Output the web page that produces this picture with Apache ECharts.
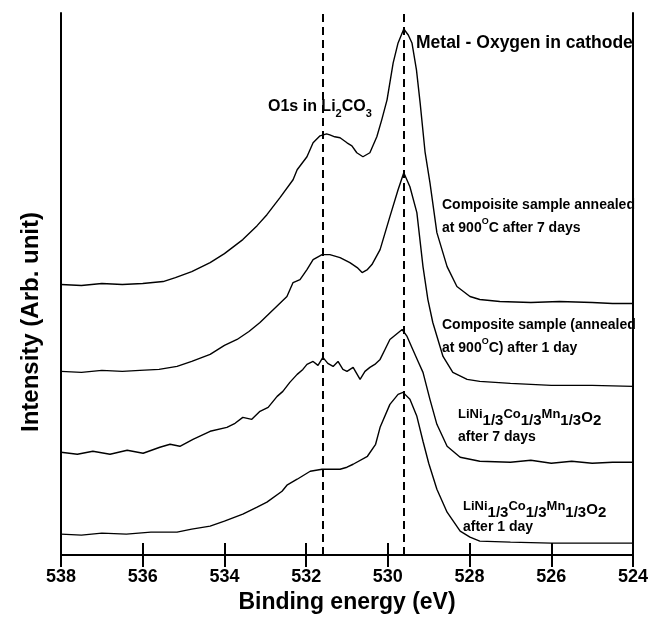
<!doctype html>
<html>
<head>
<meta charset="UTF-8">
<title>O1s XPS</title>
<script src="https://cdn.jsdelivr.net/npm/echarts@6/dist/echarts.min.js"></script>
<style>
  html, body { margin: 0; padding: 0; background: #fff; }
  #main { width: 653px; height: 619px; }
</style>
</head>
<body>
<div id="main"></div>
<script>
// binding energy (eV) and intensity (arb. unit) of each spectrum
var e1 = [538.0, 537.5, 537.0, 536.5, 536.0, 535.5, 535.2, 534.8, 534.35, 534.0, 533.55, 533.2, 532.96, 532.64, 532.32, 532.22, 531.98, 531.83, 531.66, 531.5, 531.42, 531.3, 531.17, 531.0, 530.88, 530.76, 530.61, 530.44, 530.27, 530.15, 530.02, 529.87, 529.75, 529.61, 529.5, 529.41, 529.3, 529.21, 529.09, 528.97, 528.8, 528.55, 528.31, 527.99, 527.75, 527.26, 526.5, 525.8, 525.0, 524.5, 524.0];
var i1 = [271, 270, 272, 271, 272, 274, 278, 284, 293, 302, 316, 330, 341, 358, 376, 386, 399, 413, 420, 422, 421, 419, 418, 413, 410, 403, 399, 403, 419, 436, 456, 493, 513, 527, 521, 513, 486, 453, 404, 373, 323, 289, 269, 259, 256, 254, 253, 254, 253, 252, 252];

var e2 = [538.0, 537.5, 537.0, 536.5, 536.07, 535.6, 535.16, 534.8, 534.35, 534.0, 533.69, 533.4, 533.13, 532.8, 532.47, 532.32, 532.15, 531.98, 531.83, 531.61, 531.42, 531.17, 530.93, 530.75, 530.63, 530.5, 530.39, 530.19, 529.95, 529.75, 529.61, 529.46, 529.29, 529.14, 529.02, 528.9, 528.65, 528.41, 528.06, 527.75, 527.0, 526.0, 525.0, 524.0];
var i2 = [184, 183, 185, 184, 185, 186, 189, 194, 201, 210, 216, 224, 233, 246, 259, 273, 276, 286, 296, 301, 301, 298, 293, 288, 283, 286, 291, 306, 339, 366, 383, 369, 343, 289, 256, 233, 199, 183, 176, 174, 172, 170, 170, 169];

var e3 = [538.0, 537.6, 537.22, 536.8, 536.38, 535.99, 535.58, 535.33, 535.09, 534.77, 534.35, 533.94, 533.74, 533.55, 533.33, 533.13, 532.93, 532.71, 532.57, 532.4, 532.22, 532.08, 531.98, 531.83, 531.71, 531.59, 531.47, 531.34, 531.22, 531.1, 531.0, 530.85, 530.68, 530.56, 530.44, 530.32, 530.19, 530.07, 529.95, 529.8, 529.65, 529.53, 529.39, 529.26, 529.14, 528.97, 528.8, 528.55, 528.23, 527.75, 527.0, 526.5, 526.0, 525.5, 525.0, 524.5, 524.0];
var i3 = [103, 101, 104, 101, 105, 102, 108, 111, 109, 116, 124, 128, 132, 138, 136, 144, 148, 159, 164, 173, 181, 186, 191, 194, 190, 198, 192, 189, 194, 186, 184, 188, 176, 184, 188, 191, 196, 206, 216, 221, 226, 219, 206, 194, 183, 156, 131, 109, 98, 94, 93, 95, 92, 94, 92, 93, 93];

var e4 = [538.0, 537.5, 537.0, 536.4, 535.8, 535.16, 534.8, 534.35, 534.0, 533.55, 533.2, 532.96, 532.59, 532.47, 532.22, 531.9, 531.61, 531.17, 531.0, 530.85, 530.5, 530.3, 530.19, 529.95, 529.75, 529.63, 529.46, 529.29, 529.14, 529.0, 528.8, 528.55, 528.23, 527.99, 527.75, 527.0, 526.0, 525.0, 524.0];
var i4 = [21, 20, 22, 21, 23, 23, 26, 29, 34, 41, 48, 53, 64, 70, 76, 84, 86, 86, 88, 91, 99, 111, 128, 151, 161, 163, 156, 139, 114, 92, 66, 43, 24, 18, 14, 13, 12, 12, 12];

// reference lines: O1s in Li2CO3 and metal-oxygen
var refLines = [531.6, 529.6];

var FONT = '"Liberation Sans", Arial, sans-serif';

function pairs(e, v) {
  var out = [];
  for (var k = 0; k < e.length; k++) out.push([e[k], v[k]]);
  return out;
}

function lineSeries(e, v) {
  return {
    type: 'line',
    data: pairs(e, v),
    showSymbol: false,
    symbol: 'none',
    lineStyle: { color: '#000', width: 1.4 },
    silent: true
  };
}

var chart = echarts.init(document.getElementById('main'));

var series = [lineSeries(e1, i1), lineSeries(e2, i2), lineSeries(e3, i3), lineSeries(e4, i4)];
series[0].markLine = {
  silent: true,
  symbol: ['none', 'none'],
  label: { show: false },
  lineStyle: { color: '#000', width: 2, type: [8, 5] },
  data: refLines.map(function (x) { return { xAxis: x }; })
};

function txt(x, y, text, size, rich, lh) {
  return {
    type: 'text',
    x: x,
    y: y,
    z: 10,
    style: {
      text: text,
      fill: '#000',
      font: 'bold ' + size + 'px ' + FONT,
      verticalAlign: 'middle',
      lineHeight: lh || size + 4,
      rich: rich || {}
    }
  };
}

var supRich = {
  sup: { font: 'bold 9px ' + FONT, verticalAlign: 'top', height: 8, fill: '#000' }
};
var liRich = {
  m: { font: 'bold 13px ' + FONT, verticalAlign: 'top', height: 13, fill: '#000' },
  s: { font: 'bold 15px ' + FONT, verticalAlign: 'bottom', height: 15, fill: '#000' },
  o: { font: 'bold 15px ' + FONT, fill: '#000' }
};
var liText = '{m|LiNi}{s|1/3}{m|Co}{s|1/3}{m|Mn}{s|1/3}{o|O}{s|2}';

var option = {
  animation: false,
  backgroundColor: '#fff',
  grid: { left: 61, right: 20, top: 13, bottom: 63 },
  xAxis: [{
    type: 'value',
    min: 524,
    max: 538,
    interval: 2,
    inverse: true,
    position: 'bottom',
    axisLine: { lineStyle: { color: '#000', width: 2 } },
    axisTick: { inside: true, length: 12, lineStyle: { color: '#000', width: 2 } },
    axisLabel: { color: '#000', fontSize: 18, fontWeight: 'bold', fontFamily: FONT, margin: 13 },
    splitLine: { show: false },
    name: 'Binding energy (eV)',
    nameLocation: 'middle',
    nameGap: 35,
    nameTextStyle: { color: '#000', fontSize: 23, fontWeight: 'bold', fontFamily: FONT }
  }, {
    type: 'value',
    min: 524,
    max: 538,
    interval: 2,
    inverse: true,
    position: 'top',
    axisLine: { lineStyle: { color: '#000', width: 2 } },
    axisTick: { inside: true, length: 12, lineStyle: { color: '#000', width: 2 } },
    axisLabel: { show: false },
    splitLine: { show: false }
  }],
  yAxis: [{
    type: 'value',
    min: 0,
    max: 543,
    axisLine: { show: true, lineStyle: { color: '#000', width: 2 } },
    axisTick: { show: false },
    axisLabel: { show: false },
    splitLine: { show: false },
    name: 'Intensity (Arb. unit)',
    nameLocation: 'middle',
    nameGap: 18,
    nameTextStyle: { color: '#000', fontSize: 24, fontWeight: 'bold', fontFamily: FONT, padding: [0, 76, 0, 0] }
  }, {
    type: 'value',
    min: 0,
    max: 543,
    position: 'right',
    axisLine: { show: true, lineStyle: { color: '#000', width: 2 } },
    axisTick: { show: false },
    axisLabel: { show: false },
    splitLine: { show: false }
  }],
  series: series,
  graphic: [
    txt(416, 43, 'Metal - Oxygen in cathode', 17.5),
    txt(268, 107, 'O1s in Li{sub|2}CO{sub|3}', 16, {
      sub: { font: 'bold 11px ' + FONT, verticalAlign: 'bottom', height: 10, fill: '#000' }
    }, 24),
    txt(442, 205, 'Compoisite sample annealed', 14),
    txt(442, 228, 'at 900{sup|O}C after 7 days', 14, supRich, 20),
    txt(442, 325, 'Composite sample (annealed', 14),
    txt(442, 348, 'at 900{sup|O}C) after 1 day', 14, supRich, 20),
    txt(458, 418, liText, 15, liRich, 21),
    txt(458, 437, 'after 7 days', 14),
    txt(463, 510, liText, 15, liRich, 21),
    txt(463, 527, 'after 1 day', 14),
    // hide text running past the right frame
    { type: 'rect', z: 11, shape: { x: 635, y: 150, width: 18, height: 250 }, style: { fill: '#fff' } }
  ]
};

chart.setOption(option);
</script>
</body>
</html>
